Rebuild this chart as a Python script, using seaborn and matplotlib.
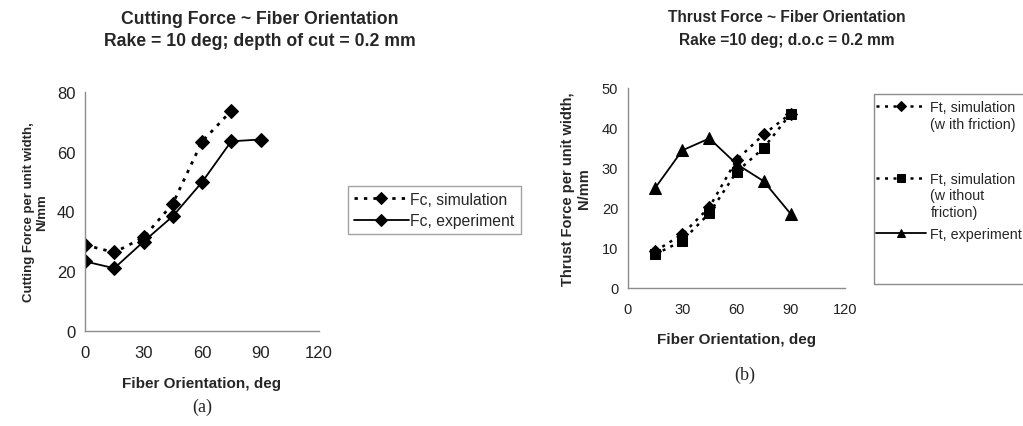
import matplotlib
matplotlib.use('Agg')
import matplotlib.pyplot as plt
from matplotlib.patches import Rectangle
import seaborn as sns

# Datos
angulo = [0, 15, 30, 45, 60, 75, 90]
fc_sim_x = [0, 15, 30, 45, 60, 75]
fc_sim = [28.8, 26.3, 31.3, 42.6, 63.4, 73.7]
fc_exp = [23.3, 21.0, 29.9, 38.4, 49.8, 63.5, 64.1]

ft_x = [15, 30, 45, 60, 75, 90]
ft_sim_fric = [9.2, 13.4, 20.2, 32.0, 38.4, 43.6]
ft_sim_nofric = [8.4, 11.8, 18.7, 29.0, 35.0, 43.6]
ft_exp = [25.0, 34.4, 37.4, 31.0, 26.7, 18.5]

xticks = [0, 30, 60, 90, 120]

# Textos de la leyenda (b): primera linea junto al simbolo, resto debajo
leyenda_b = [
    ('Ft, simulation', ['(w ith friction)']),
    ('Ft, simulation', ['(w ithout', 'friction)']),
    ('Ft, experiment', []),
]

W, H = 1023, 427
GRIS = '#8c8c8c'
DOT = (0, (1.2, 2.2))

sns.set_style('white')
plt.rcParams['font.family'] = ['Liberation Sans', 'DejaVu Sans']

fig = plt.figure(figsize=(W / 100, H / 100), dpi=100)


def px(x0, y0, x1, y1):
    # rectangulo en pixeles -> coordenadas de figura
    return [x0 / W, 1 - y1 / H, (x1 - x0) / W, (y1 - y0) / H]


def estilo_ejes(ax, ymax, ystep, fs):
    ax.set_xlim(0, 120)
    ax.set_ylim(0, ymax)
    ax.set_xticks(xticks)
    ax.set_yticks(range(0, ymax + 1, ystep))
    for s in ['top', 'right']:
        ax.spines[s].set_visible(False)
    for s in ['left', 'bottom']:
        ax.spines[s].set_color(GRIS)
        ax.spines[s].set_linewidth(1.0)
    ax.tick_params(direction='out', length=4, width=1, color=GRIS,
                   labelsize=fs, labelcolor='#222222')
    ax.tick_params(axis='x', pad=6)
    ax.tick_params(axis='y', pad=3)
    ax.set_facecolor('white')


# Panel (a) #
ax1 = fig.add_axes(px(85, 93, 319, 332))
sns.lineplot(x=fc_sim_x, y=fc_sim, ax=ax1, color='black', linestyle=DOT, linewidth=2,
             marker='D', markersize=7.5, markeredgecolor='black', label='Fc, simulation')
sns.lineplot(x=angulo, y=fc_exp, ax=ax1, color='black', linestyle='-', linewidth=1.3,
             marker='D', markersize=7.5, markeredgecolor='black', label='Fc, experiment')
estilo_ejes(ax1, 80, 20, 12)
ax1.set_xlabel('Fiber Orientation, deg', fontsize=11, fontweight='bold', labelpad=11.5)
ax1.set_ylabel('Cutting Force per unit width,\nN/mm', fontsize=9.5, fontweight='bold', labelpad=6)
leg1 = ax1.legend(loc='upper left', bbox_to_anchor=(348 / W, 1 - 187 / H),
                  bbox_transform=fig.transFigure, fontsize=11.3, frameon=True, fancybox=False,
                  edgecolor=GRIS, handlelength=3.5, handletextpad=0.1, borderpad=0.38,
                  labelspacing=0.4, borderaxespad=0, markerscale=0.8)
leg1.get_frame().set_linewidth(1.0)

fig.text(260 / W, 1 - 19 / H, 'Cutting Force ~ Fiber Orientation', ha='center', va='center',
         fontsize=12.7, fontweight='bold')
fig.text(260 / W, 1 - 41 / H, 'Rake = 10 deg; depth of cut = 0.2 mm', ha='center', va='center',
         fontsize=12.7, fontweight='bold')
fig.text(202 / W, 1 - 407 / H, '(a)', ha='center', va='center', fontsize=13,
         family=['Liberation Serif', 'DejaVu Serif'])

# Panel (b) #
ax2 = fig.add_axes(px(628, 89, 845, 289))
sns.lineplot(x=ft_x, y=ft_sim_fric, ax=ax2, color='black', linestyle=DOT, linewidth=1.8,
             marker='D', markersize=6, markeredgecolor='black', legend=False)
sns.lineplot(x=ft_x, y=ft_sim_nofric, ax=ax2, color='black', linestyle=DOT, linewidth=1.8,
             marker='s', markersize=7, markeredgecolor='black', legend=False)
sns.lineplot(x=ft_x, y=ft_exp, ax=ax2, color='black', linestyle='-', linewidth=1.3,
             marker='^', markersize=8, markeredgecolor='black', legend=False)
estilo_ejes(ax2, 50, 10, 10.5)
ax2.set_xlabel('Fiber Orientation, deg', fontsize=11, fontweight='bold', labelpad=11.5)
ax2.set_ylabel('Thrust Force per unit width,\nN/mm', fontsize=10.5, fontweight='bold', labelpad=8)

# Marco de la leyenda (se sale por la derecha como en el original)
fig.add_artist(Rectangle((874 / W, 1 - 285 / H), 200 / W, (285 - 95) / H,
                         transform=fig.transFigure, fill=False, edgecolor=GRIS, linewidth=1.0))
fs_leg = 10.3
hl, tp = 3.5, 0.3
x_texto = (876 + (hl + tp) * fs_leg * 100 / 72) / W
fila_y = [108, 180, 235]
for linea, (primera, resto), y in zip(ax2.get_lines(), leyenda_b, fila_y):
    lg = fig.legend([linea], [primera], loc='center left', bbox_to_anchor=(876 / W, 1 - y / H),
                    fontsize=fs_leg, frameon=False, handlelength=hl, handletextpad=tp,
                    borderpad=0, borderaxespad=0, markerscale=0.8)
    for k, texto in enumerate(resto):
        fig.text(x_texto, 1 - (y + 16.5 * (k + 1)) / H, texto, ha='left', va='center',
                 fontsize=fs_leg)

fig.text(787 / W, 1 - 18 / H, 'Thrust Force ~ Fiber Orientation', ha='center', va='center',
         fontsize=11.2, fontweight='bold')
fig.text(787 / W, 1 - 40 / H, 'Rake =10 deg; d.o.c = 0.2 mm', ha='center', va='center',
         fontsize=11.2, fontweight='bold')
fig.text(745 / W, 1 - 375 / H, '(b)', ha='center', va='center', fontsize=13,
         family=['Liberation Serif', 'DejaVu Serif'])

fig.savefig('out.png', dpi=100, facecolor='white')
